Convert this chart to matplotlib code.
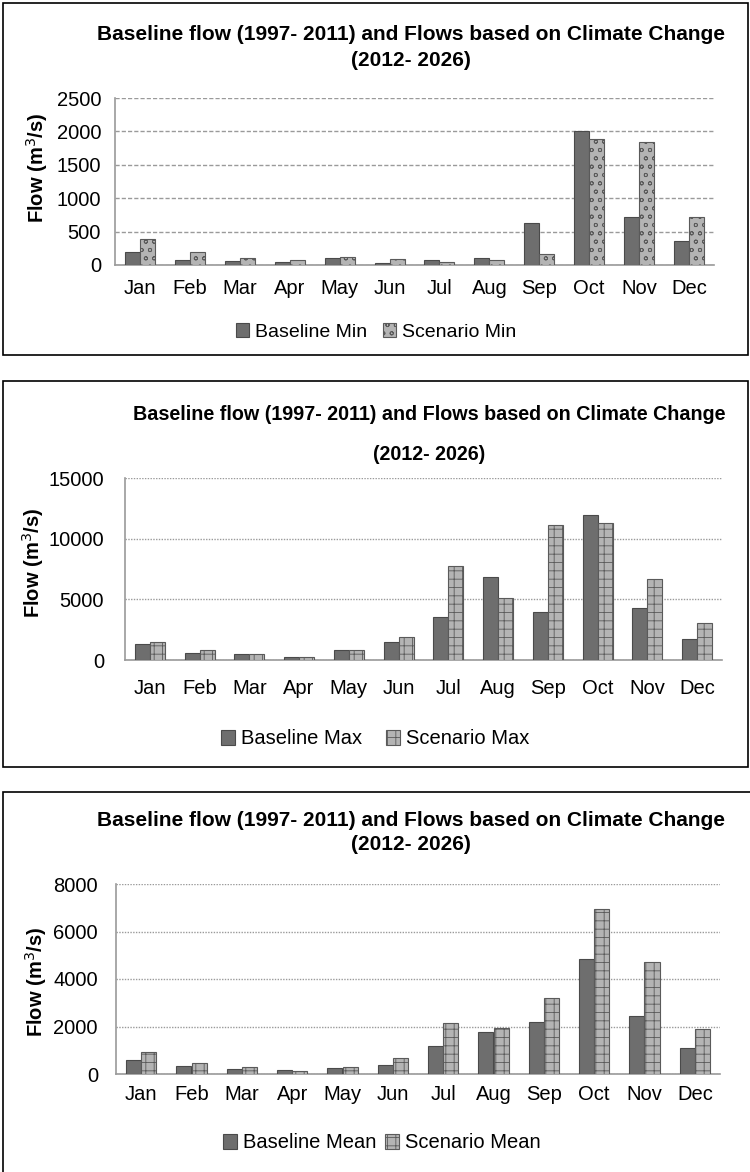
import matplotlib
matplotlib.use("Agg")
import matplotlib.pyplot as plt
from matplotlib.patches import Rectangle, Patch
import numpy as np

plt.rcParams['font.family'] = ['Liberation Sans', 'DejaVu Sans']
plt.rcParams['hatch.linewidth'] = 0.6
plt.rcParams['hatch.color'] = '#6a6a6a'

months = ['Jan', 'Feb', 'Mar', 'Apr', 'May', 'Jun', 'Jul', 'Aug', 'Sep', 'Oct', 'Nov', 'Dec']

min_base = [190, 75, 55, 40, 110, 25, 70, 110, 625, 2000, 715, 365]
min_scen = [390, 195, 110, 75, 125, 90, 45, 75, 165, 1890, 1845, 720]

max_base = [1290, 550, 470, 275, 820, 1450, 3510, 6850, 3980, 11930, 4250, 1730]
max_scen = [1450, 800, 470, 275, 820, 1860, 7730, 5070, 11100, 11270, 6640, 3020]

mean_base = [590, 350, 225, 155, 265, 395, 1195, 1785, 2210, 4850, 2460, 1080]
mean_scen = [940, 450, 295, 140, 295, 660, 2165, 1955, 3180, 6945, 4700, 1885]

W, H = 750, 1172
DPI = 100
fig = plt.figure(figsize=(W / DPI, H / DPI), dpi=DPI)

def fx(x):
    return x / W

def fy(y):
    return 1 - y / H

def box(x0, y0, x1, y1, color='black', lw=1.2):
    fig.add_artist(Rectangle((fx(x0), fy(y1)), fx(x1) - fx(x0), fy(y0) - fy(y1),
                             transform=fig.transFigure, fill=False,
                             edgecolor=color, linewidth=lw))

BASE_FC = '#6e6e6e'
BASE_EC = '#4a4a4a'
SCEN_FC = '#b4b4b4'
SCEN_EC = '#5a5a5a'

FS = 14.5

panels = [
    dict(base=min_base, scen=min_scen, ymax=2500, step=500,
         box=(3, 3, 748, 355), ax=(115, 98, 714, 265),
         title_y=(35, 60), title_x=411, tfs=15, ylab=(37, 168),
         ypad=10, xpad=10, grid_ls=(0, (3, 1.5)),
         leg=(376, 332), lfs=14, names=('Baseline Min', 'Scenario Min'),
         hatch='oo', colspace=0.8),
    dict(base=max_base, scen=max_scen, ymax=15000, step=5000,
         box=(3, 381, 748, 767), ax=(125, 478, 722, 660),
         title_y=(414, 455), title_x=429, tfs=14.2, ylab=(33, 563),
         ypad=15, xpad=14, grid_ls=(0, (1, 1)),
         leg=(375, 739), lfs=14.5, names=('Baseline Max', 'Scenario Max'),
         hatch='++', colspace=1.2),
    dict(base=mean_base, scen=mean_scen, ymax=8000, step=2000,
         box=(3, 792, 770, 1190), ax=(116, 884, 720, 1074),
         title_y=(820, 845), title_x=411, tfs=15, ylab=(36, 982),
         ypad=13, xpad=8, grid_ls=(0, (1, 1)),
         leg=(382, 1143), lfs=14.5, names=('Baseline Mean', 'Scenario Mean'),
         hatch='++', colspace=0.4),
]

x = np.arange(len(months))
bw = 0.3

for p in panels:
    box(*p['box'])
    l, t, r, b = p['ax']
    ax = fig.add_axes([fx(l), fy(b), fx(r) - fx(l), fy(t) - fy(b)])
    ax.bar(x - bw / 2, p['base'], width=bw, color=BASE_FC, edgecolor=BASE_EC,
           linewidth=0.8, zorder=3)
    ax.bar(x + bw / 2, p['scen'], width=bw, color=SCEN_FC, edgecolor=SCEN_EC,
           linewidth=0.8, hatch=p['hatch'], zorder=3)
    ax.set_xlim(-0.5, len(months) - 0.5)
    ax.set_ylim(0, p['ymax'])
    ax.set_yticks(np.arange(0, p['ymax'] + 1, p['step']))
    ax.set_xticks(x)
    ax.set_xticklabels(months, fontsize=FS)
    ax.tick_params(axis='y', labelsize=FS, length=0, pad=p['ypad'])
    ax.tick_params(axis='x', length=0, pad=p['xpad'])
    ax.grid(axis='y', color='#9a9a9a', linestyle=p['grid_ls'], linewidth=1.0, zorder=0)
    for s in ('top', 'right'):
        ax.spines[s].set_visible(False)
    for s in ('left', 'bottom'):
        ax.spines[s].set_color('#9a9a9a')
        ax.spines[s].set_linewidth(1.2)
    ax.set_facecolor('none')

    fig.text(fx(p['title_x']), fy(p['title_y'][0]),
             'Baseline flow (1997- 2011) and Flows based on Climate Change',
             ha='center', va='center', fontsize=p['tfs'], fontweight='bold')
    fig.text(fx(p['title_x']), fy(p['title_y'][1]), '(2012- 2026)',
             ha='center', va='center', fontsize=p['tfs'], fontweight='bold')
    fig.text(fx(p['ylab'][0]), fy(p['ylab'][1]), 'Flow (m$^3$/s)',
             ha='center', va='center', rotation=90, fontsize=FS, fontweight='bold')

    handles = [Patch(facecolor=BASE_FC, edgecolor=BASE_EC, linewidth=0.8),
               Patch(facecolor=SCEN_FC, edgecolor=SCEN_EC, linewidth=0.8, hatch=p['hatch'])]
    fig.legend(handles, p['names'], loc='center',
               bbox_to_anchor=(fx(p['leg'][0]), fy(p['leg'][1])),
               ncol=2, frameon=False, fontsize=p['lfs'], handlelength=0.7,
               handleheight=0.7, handletextpad=0.3, columnspacing=p['colspace'])

fig.savefig('out.png', dpi=DPI)
